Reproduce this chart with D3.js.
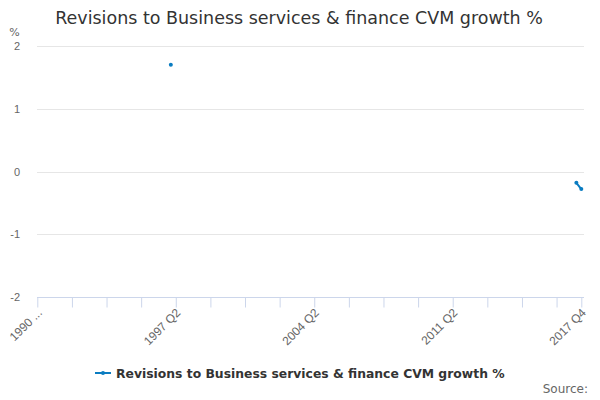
<!DOCTYPE html>
<html>
<head>
<meta charset="utf-8">
<script src="https://cdn.jsdelivr.net/npm/d3@7/dist/d3.min.js"></script>
<style>
  body { margin: 0; background: #fff; }
  svg { display: block; font-family: "DejaVu Sans", sans-serif; }
</style>
</head>
<body>
<div id="chart"></div>
<script>
// quarters 1990 Q2 .. 2017 Q4
let startYear = 1990, startQuarter = 2, endYear = 2017, endQuarter = 4;
let categories = [];
for (let y = startYear; y <= endYear; y++) {
    for (let q = 1; q <= 4; q++) {
        if (y == startYear && q < startQuarter) continue;
        if (y == endYear && q > endQuarter) continue;
        categories.push(y + " Q" + q);
    }
}

// only a few quarters carry values, everything else is empty
let pointQuarters = ["1997 Q1", "2017 Q3", "2017 Q4"];
let pointValues = [1.70, -0.18, -0.28];

let yTicks = [-2, -1, 0, 1, 2];
let tickEvery = 7;
let labelQuarters = ["1990 Q2", "1997 Q2", "2004 Q2", "2011 Q2", "2017 Q4"];
let labelTexts = ["1990 ...", "1997 Q2", "2004 Q2", "2011 Q2", "2017 Q4"];

let titleText = "Revisions to Business services & finance CVM growth %";
let seriesName = "Revisions to Business services & finance CVM growth %";
let color = "#0a7cc1";

let series = categories.map(c => {
    let i = pointQuarters.indexOf(c);
    return { cat: c, value: i < 0 ? null : pointValues[i] };
});

let width = 600, height = 400;
let plotLeft = 37, plotRight = 584, plotTop = 46, plotBottom = 297;

let svg = d3.select("#chart").append("svg")
    .attr("width", width)
    .attr("height", height);

let x = d3.scalePoint()
    .domain(categories)
    .range([plotLeft + 0.3, plotRight - 2.7]);

let y = d3.scaleLinear()
    .domain([-2, 2])
    .range([plotBottom, plotTop]);

// fit a text to a wanted width by scaling its font size
function fitText(sel, size, wanted) {
    sel.attr("font-size", size);
    let len = sel.node().getComputedTextLength();
    sel.attr("font-size", size * wanted / len);
}

// title
let title = svg.append("text")
    .attr("x", 299)
    .attr("y", 24)
    .attr("text-anchor", "middle")
    .attr("fill", "#333")
    .text(titleText);
fitText(title, 17, 488);

// grid
svg.append("g")
    .selectAll("line")
    .data(yTicks.filter(t => t != -2))
    .enter().append("line")
    .attr("x1", plotLeft)
    .attr("x2", plotRight)
    .attr("y1", d => Math.round(y(d)) + 0.5)
    .attr("y2", d => Math.round(y(d)) + 0.5)
    .attr("stroke", "#e6e6e6");

// y axis labels
let yAxis = d3.axisLeft(y)
    .tickValues(yTicks)
    .tickSize(0)
    .tickPadding(0)
    .tickFormat(d => String(d));
let gy = svg.append("g")
    .attr("transform", "translate(20,0)")
    .call(yAxis);
gy.select(".domain").remove();
gy.selectAll("text")
    .attr("font-size", 11)
    .attr("fill", "#666");

svg.append("text")
    .attr("x", 14.5)
    .attr("y", 36)
    .attr("text-anchor", "middle")
    .attr("font-size", 11)
    .attr("fill", "#666")
    .text("%");

// x axis
let tickCats = categories.filter((c, i) => i % tickEvery == 0 || i == categories.length - 1);
let xAxis = d3.axisBottom(x)
    .tickValues(tickCats)
    .tickSize(10)
    .tickSizeOuter(0)
    .tickFormat(d => {
        let i = labelQuarters.indexOf(d);
        return i < 0 ? "" : labelTexts[i];
    });
let gx = svg.append("g")
    .attr("transform", "translate(0," + (plotBottom + 0.5) + ")")
    .call(xAxis);
gx.select(".domain")
    .attr("d", "M" + plotLeft + ",0H" + plotRight)
    .attr("stroke", "#ccd6eb");
gx.selectAll(".tick line").attr("stroke", "#ccd6eb");
gx.selectAll(".tick text")
    .attr("font-size", 12)
    .attr("fill", "#666")
    .attr("text-anchor", "end")
    .attr("x", 0)
    .attr("y", 0)
    .attr("dy", 0)
    .attr("transform", "translate(5,16) rotate(-45)");

// series
let line = d3.line()
    .defined(d => d.value != null)
    .x(d => x(d.cat))
    .y(d => y(d.value));

svg.append("path")
    .datum(series)
    .attr("d", line)
    .attr("fill", "none")
    .attr("stroke", color)
    .attr("stroke-width", 2);

svg.append("g")
    .selectAll("circle")
    .data(series.filter(d => d.value != null))
    .enter().append("circle")
    .attr("cx", d => x(d.cat))
    .attr("cy", d => y(d.value))
    .attr("r", 2)
    .attr("fill", color);

// legend
let lg = svg.append("g").attr("transform", "translate(95,373)");
lg.append("line")
    .attr("x1", 0).attr("x2", 16)
    .attr("y1", 0).attr("y2", 0)
    .attr("stroke", color)
    .attr("stroke-width", 2);
lg.append("circle")
    .attr("cx", 8).attr("cy", 0).attr("r", 2)
    .attr("fill", color);
let lgText = lg.append("text")
    .attr("x", 21)
    .attr("y", 4.5)
    .attr("font-weight", "bold")
    .attr("fill", "#333")
    .text(seriesName);
fitText(lgText, 12, 389);

svg.append("text")
    .attr("x", 588)
    .attr("y", 393)
    .attr("text-anchor", "end")
    .attr("font-size", 12)
    .attr("fill", "#666")
    .text("Source:");
</script>
</body>
</html>
